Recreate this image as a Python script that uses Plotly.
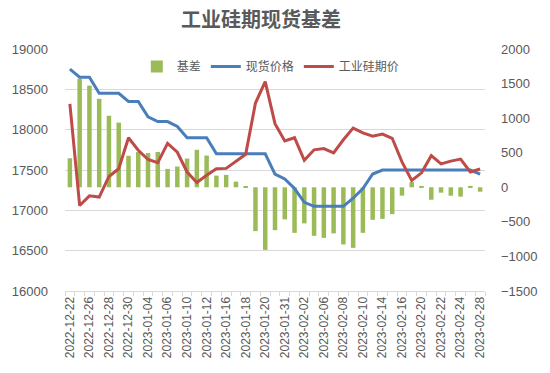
import plotly.graph_objects as go

dates = ["2022-12-22", "2022-12-23", "2022-12-26", "2022-12-27", "2022-12-28", "2022-12-29",
         "2022-12-30", "2023-01-03", "2023-01-04", "2023-01-05", "2023-01-06", "2023-01-09",
         "2023-01-10", "2023-01-11", "2023-01-12", "2023-01-13", "2023-01-16", "2023-01-17",
         "2023-01-18", "2023-01-19", "2023-01-20", "2023-01-30", "2023-01-31", "2023-02-01",
         "2023-02-02", "2023-02-03", "2023-02-06", "2023-02-07", "2023-02-08", "2023-02-09",
         "2023-02-10", "2023-02-13", "2023-02-14", "2023-02-15", "2023-02-16", "2023-02-17",
         "2023-02-20", "2023-02-21", "2023-02-22", "2023-02-23", "2023-02-24", "2023-02-27",
         "2023-02-28"]

basis = [420, 1570, 1470, 1280, 1035, 935, 455, 510, 495, 510, 266, 300, 416, 542, 459,
         169, 179, 82, 10, -634, -905, -620, -464, -659, -522, -702, -731, -667, -827, -876,
         -659, -470, -457, -388, -121, 75, 20, -180, -78, -122, -136, 20, -64]

spot = [18750, 18650, 18650, 18450, 18450, 18450, 18350, 18350, 18160, 18100, 18100, 18040,
        17900, 17900, 17900, 17700, 17700, 17700, 17700, 17700, 17700, 17450, 17390, 17270,
        17100, 17050, 17050, 17050, 17050, 17150, 17270, 17450, 17500, 17500, 17500, 17500,
        17500, 17500, 17500, 17500, 17500, 17500, 17450]

futures = [18320, 17060, 17180, 17165, 17420, 17515, 17900, 17745, 17630, 17590, 17830, 17720,
           17475, 17345, 17435, 17515, 17520, 17610, 17695, 18330, 18595, 18075, 17860, 17900,
           17620, 17750, 17765, 17712, 17875, 18020, 17960, 17920, 17945, 17893, 17600, 17370,
           17465, 17678, 17575, 17610, 17635, 17475, 17513]

tick_text = [d if i % 2 == 0 else "" for i, d in enumerate(dates)]

GREY = "#595959"
GRID = "#d9d9d9"

fig = go.Figure()
fig.add_trace(go.Bar(x=dates, y=basis, name="基差", marker_color="#9BBB59",
                     marker_line_width=0, yaxis="y"))
fig.add_trace(go.Scatter(x=dates, y=spot, name="现货价格", mode="lines",
                         line=dict(color="#4A7EBB", width=3), yaxis="y2"))
fig.add_trace(go.Scatter(x=dates, y=futures, name="工业硅期价", mode="lines",
                         line=dict(color="#BE4B48", width=3), yaxis="y2"))

fig.update_layout(
    width=550, height=373,
    margin=dict(l=55, r=55, t=49, b=82),
    paper_bgcolor="white", plot_bgcolor="white",
    title=dict(text="<b>工业硅期现货基差</b>", x=261 / 550, xanchor="center", y=1 - 20 / 373,
               yanchor="middle", yref="container",
               font=dict(family="Noto Sans CJK SC", size=20, color=GREY)),
    font=dict(family="Liberation Sans", size=13, color=GREY),
    bargap=0.54,
    showlegend=True,
    legend=dict(orientation="h", x=0.49, xanchor="center", y=0.928, yanchor="middle",
                bgcolor="rgba(0,0,0,0)", itemwidth=30,
                font=dict(family="Noto Sans CJK SC", size=12, color=GREY)),
    xaxis=dict(type="category", categoryorder="array", categoryarray=dates,
               tickmode="array", tickvals=dates, ticktext=tick_text, tickangle=-90,
               tickson="boundaries", ticks="outside", ticklen=4, tickcolor=GRID,
               showline=True, linecolor=GRID, showgrid=False,
               tickfont=dict(family="Liberation Sans", size=12, color=GREY)),
    yaxis=dict(side="right", range=[-1500, 2000], dtick=500, tick0=0, showgrid=False,
               zeroline=False, showline=False, ticks="", ticklabelstandoff=15,
               tickformat="d", tickfont=dict(size=13, color=GREY)),
    yaxis2=dict(side="left", overlaying="y", anchor="x", range=[16000, 19000], dtick=500,
                showgrid=True, gridcolor=GRID, gridwidth=1, zeroline=False, showline=False,
                ticks="", ticklabelstandoff=16, tickformat="d",
                tickfont=dict(size=13, color=GREY)),
)

fig.write_html("out.html", config={"displayModeBar": False},
               post_script="document.body.style.margin='0';")
